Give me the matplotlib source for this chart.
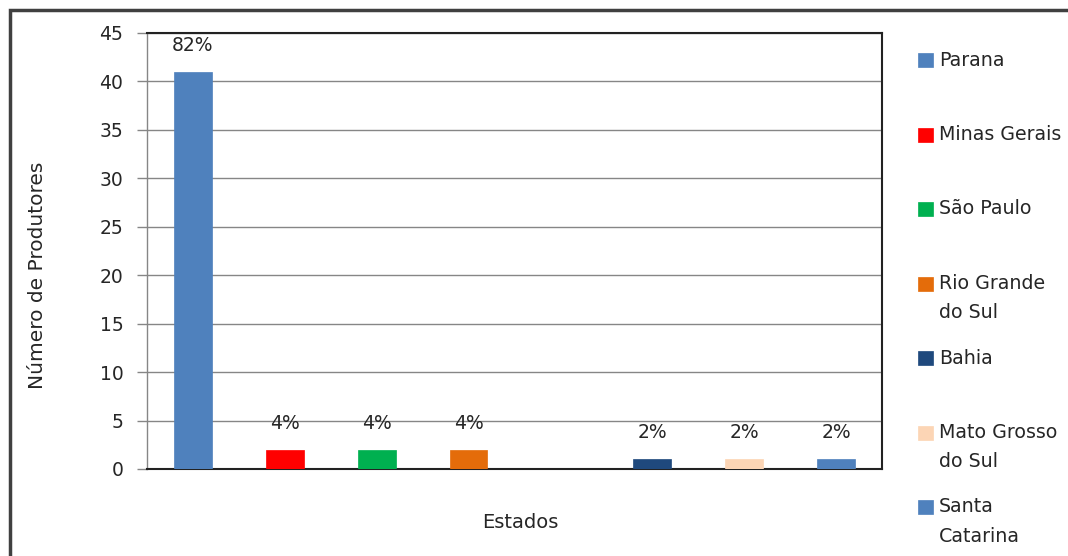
import matplotlib
matplotlib.use("Agg")
import matplotlib.pyplot as plt
from matplotlib.patches import Rectangle

plt.rcParams['font.family'] = ['DejaVu Sans']

# Data (None = empty slot on the category axis)
states = ["Parana", "Minas Gerais", "São Paulo", "Rio Grande\ndo Sul", None,
          "Bahia", "Mato Grosso\ndo Sul", "Santa\nCatarina"]
values = [41, 2, 2, 2, None, 1, 1, 1]
percent_labels = ["82%", "4%", "4%", "4%", None, "2%", "2%", "2%"]
colors = ["#4F81BD", "#FF0000", "#00B050", "#E46C0A", None,
          "#1F497D", "#FCD5B5", "#4F81BD"]
yticks = [0, 5, 10, 15, 20, 25, 30, 35, 40, 45]

W, H = 1068, 556
TXT = "#262626"
fig = plt.figure(figsize=(W / 100, H / 100), dpi=100)
ax = fig.add_axes([147 / W, 1 - 469 / H, (882 - 147) / W, (469 - 33) / H])

for i, (v, c, lab) in enumerate(zip(values, colors, percent_labels)):
    if v is None:
        continue
    ax.bar(i, v, width=0.41, color=c, edgecolor=c, linewidth=0.5, zorder=3)
    ax.annotate(lab, (i, v), xytext=(0, 19), textcoords="offset points",
                ha="center", va="center", fontsize=13.5, color=TXT)

ax.set_xlim(-0.5, len(values) - 0.5)
ax.set_ylim(0, 45)
ax.set_yticks(yticks)
ax.set_xticks([])
ax.tick_params(axis="y", direction="out", length=7, width=1, color="#868686",
               pad=10, labelsize=13.5, labelcolor=TXT)
ax.yaxis.grid(True, color="#868686", linewidth=1)
ax.set_axisbelow(True)
for s in ["top", "right", "bottom"]:
    ax.spines[s].set_color("#222222")
    ax.spines[s].set_linewidth(1.5)
ax.spines["left"].set_color("#868686")
ax.spines["left"].set_linewidth(1)

fig.text(38 / W, 1 - 275 / H, "Número de Produtores", rotation=90,
         ha="center", va="center", fontsize=14.5, color=TXT)
fig.text(520 / W, 1 - 523 / H, "Estados", ha="center", va="center",
         fontsize=14, color=TXT)

# Legend
k = 0
for lab, c in zip(states, colors):
    if lab is None:
        continue
    yc = 60 + 74.5 * k
    fig.add_artist(Rectangle((918 / W, 1 - (yc + 7) / H), 15 / W, 14 / H,
                             transform=fig.transFigure, facecolor=c,
                             edgecolor=c, linewidth=0.5))
    for j, line in enumerate(lab.split("\n")):
        fig.text(939 / W, 1 - (yc + 29 * j) / H, line, ha="left",
                 va="center", fontsize=13.7, color=TXT)
    k += 1

# Outer frame
fig.add_artist(Rectangle((10 / W, -0.05), 1.1, 1 - 10 / H + 0.05,
                         transform=fig.transFigure, fill=False,
                         edgecolor="#404040", linewidth=2.5))

fig.savefig("out.png", dpi=100)
